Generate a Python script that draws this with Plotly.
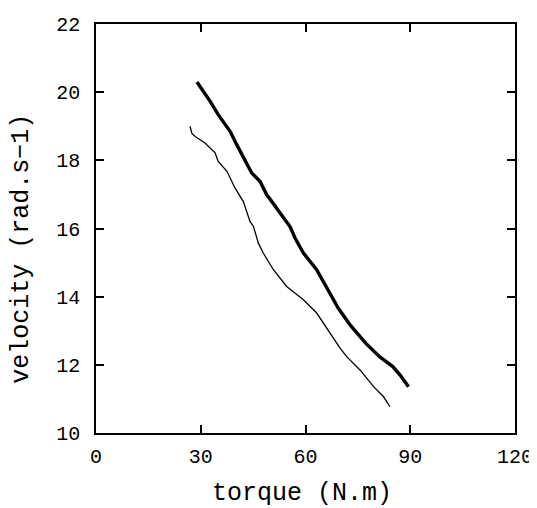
import plotly.graph_objects as go

# Thick curve (upper)
thick_torque = [28.9, 32.7, 35.0, 38.4, 40.3, 42.7, 44.6, 47.0, 48.9, 50.0, 52.7,
                55.6, 57.0, 59.4, 63.2, 66.3, 69.4, 73.0, 77.3, 81.2, 85.0, 87.1, 89.5]
thick_velocity = [20.30, 19.73, 19.34, 18.85, 18.46, 17.97, 17.63, 17.38, 16.99, 16.84, 16.45,
                  16.05, 15.72, 15.28, 14.79, 14.22, 13.66, 13.14, 12.63, 12.24, 11.95, 11.70, 11.36]

# Thin curve (lower)
thin_torque = [26.9, 27.5, 28.4, 31.2, 34.1, 35.0, 37.5, 39.8, 42.2, 44.1, 45.1, 46.5,
               47.9, 50.8, 54.6, 59.4, 63.2, 67.0, 69.9, 71.8, 75.6, 79.5, 82.3, 84.2]
thin_velocity = [19.00, 18.78, 18.70, 18.51, 18.22, 17.97, 17.68, 17.19, 16.79, 16.21, 16.06, 15.57,
                 15.28, 14.79, 14.30, 13.91, 13.52, 12.93, 12.49, 12.24, 11.85, 11.36, 11.07, 10.77]

x_ticks = [0, 30, 60, 90, 120]
y_ticks = [10, 12, 14, 16, 18, 20, 22]

FONT = "Liberation Mono"

fig = go.Figure()
fig.add_trace(go.Scatter(x=thick_torque, y=thick_velocity, mode="lines",
                         line=dict(color="black", width=3.4), showlegend=False))
fig.add_trace(go.Scatter(x=thin_torque, y=thin_velocity, mode="lines",
                         line=dict(color="black", width=1.3), showlegend=False))

axis_common = dict(showgrid=False, zeroline=False, showline=True, linecolor="black",
                   linewidth=1.5, ticks="inside", ticklen=8, tickwidth=1.5,
                   tickcolor="black", mirror="ticks", automargin=False,
                   ticklabeloverflow="allow",
                   tickfont=dict(family=FONT, size=20, color="black"))

fig.update_xaxes(range=[0, 120], tickvals=x_ticks, ticktext=[str(v) for v in x_ticks],
                 ticklabelstandoff=4, **axis_common)
fig.update_yaxes(range=[10, 22], tickvals=y_ticks, ticktext=[str(v) for v in y_ticks],
                 ticklabelstandoff=10, **axis_common)

fig.add_annotation(text="torque (N.m)", xref="paper", yref="paper", x=0.492, y=-0.147,
                   xanchor="center", yanchor="middle", showarrow=False,
                   font=dict(family=FONT, size=25, color="black"))
fig.add_annotation(text="velocity (rad.s\u22121)", xref="paper", yref="paper", x=-0.177, y=0.45,
                   xanchor="center", yanchor="middle", showarrow=False, textangle=-90,
                   font=dict(family=FONT, size=25, color="black"))

# The page adds an 8px body margin, so the figure is sized/offset to compensate.
fig.update_layout(width=529, height=500, paper_bgcolor="white", plot_bgcolor="white",
                  margin=dict(l=88, r=22, t=16, b=75, autoexpand=False))

fig.write_html("out.html")
